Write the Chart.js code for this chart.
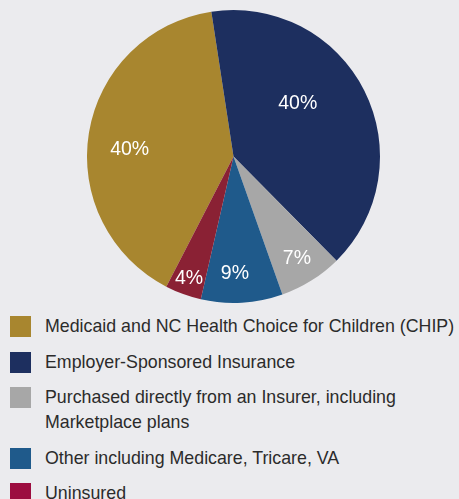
<!DOCTYPE html>
<html>
<head>
<meta charset="utf-8">
<script src="https://cdn.jsdelivr.net/npm/chart.js@4/dist/chart.umd.min.js"></script>
<style>
  html, body { margin: 0; padding: 0; background: #ebebee; overflow: hidden; }
  body { width: 459px; height: 499px; position: relative; font-family: "Liberation Sans", Arial, sans-serif; }
  #wrap { position: absolute; left: 0; top: 0; width: 459px; height: 310px; }
  #legend { position: absolute; left: 0; top: 314px; width: 459px; }
  .item { position: relative; padding-left: 45px; margin-bottom: 10.5px; font-size: 17.8px; line-height: 25px; color: #2b2b2b; white-space: pre-line; }
  .box { position: absolute; left: 10px; top: 2px; width: 21px; height: 21px; }
</style>
</head>
<body>
<div id="wrap"><canvas id="pieChart"></canvas></div>
<div id="legend"></div>
<script>
window.onload = function () {

    var etiquetas = [
        'Medicaid and NC Health Choice for Children (CHIP)',
        'Employer-Sponsored Insurance',
        'Purchased directly from an Insurer, including\nMarketplace plans',
        'Other including Medicare, Tricare, VA',
        'Uninsured'
    ];
    var datos = [40, 40, 7, 9, 4]; // porcentajes
    var colores = ['#a8862f', '#1d2f5f', '#a7a7a7', '#1f5a8b', '#8a2134'];
    var coloresLeyenda = ['#a8862f', '#1d2f5f', '#a7a7a7', '#1f5a8b', '#9c0d3f'];

    // donde va cada etiqueta: [fraccion del radio, fraccion del arco]
    var posEtiqueta = [[0.71, 0.46], [0.57, 0.41], [0.82, 0.51], [0.80, 0.58], [0.89, 0.49]];

    var etiquetasPlugin = {
        id: 'etiquetas',
        afterDatasetsDraw: function (chart) {
            var ctx = chart.ctx;
            var arcs = chart.getDatasetMeta(0).data;
            ctx.save();
            ctx.fillStyle = '#ffffff';
            ctx.font = '19.5px "Liberation Sans", Arial, sans-serif';
            ctx.textAlign = 'center';
            ctx.textBaseline = 'middle';
            arcs.forEach(function (arc, i) {
                var p = arc.getProps(['x', 'y', 'startAngle', 'endAngle', 'outerRadius'], true);
                var ang = p.startAngle + (p.endAngle - p.startAngle) * posEtiqueta[i][1];
                var r = p.outerRadius * posEtiqueta[i][0];
                ctx.fillText(datos[i] + '%', p.x + Math.cos(ang) * r, p.y + Math.sin(ang) * r);
            });
            ctx.restore();
        }
    };

    var ctx = document.getElementById('pieChart');
    new Chart(ctx, {
        type: 'pie',
        data: {
            labels: etiquetas,
            datasets: [{
                data: datos,
                backgroundColor: colores,
                borderWidth: 0,
                hoverOffset: 0
            }]
        },
        options: {
            responsive: true,
            maintainAspectRatio: false,
            animation: false,
            rotation: -152.7,
            layout: { padding: { left: 8, right: 0, top: 10, bottom: 7 } },
            plugins: {
                legend: { display: false },
                tooltip: { enabled: false }
            }
        },
        plugins: [etiquetasPlugin]
    });

    var leyenda = document.getElementById('legend');
    etiquetas.forEach(function (txt, i) {
        var div = document.createElement('div');
        div.className = 'item';
        var box = document.createElement('span');
        box.className = 'box';
        box.style.background = coloresLeyenda[i];
        div.appendChild(box);
        div.appendChild(document.createTextNode(txt));
        leyenda.appendChild(div);
    });
};
</script>
</body>
</html>
